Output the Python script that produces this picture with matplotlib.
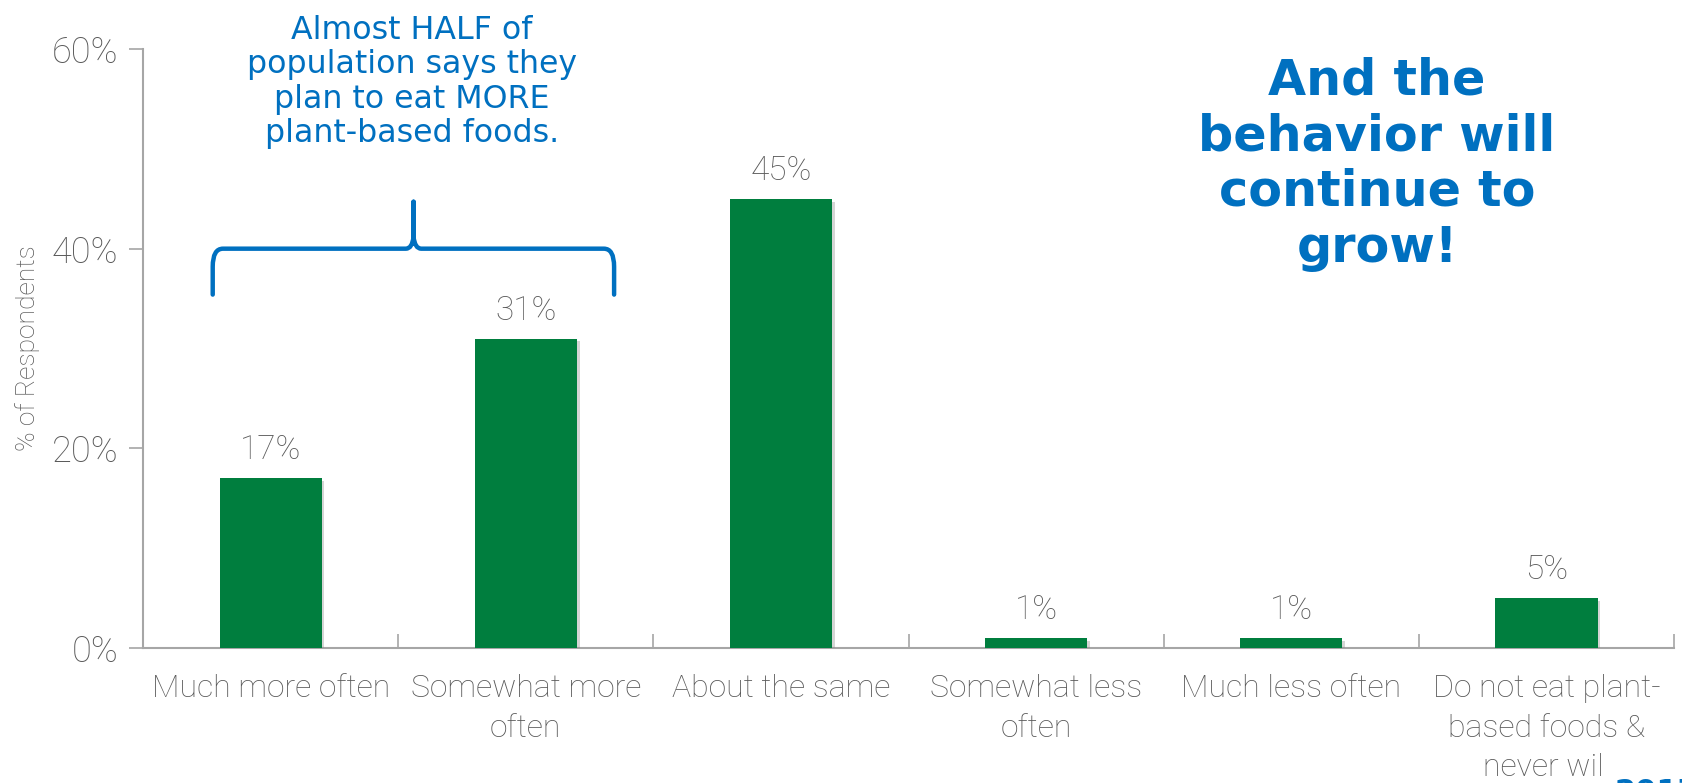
import matplotlib.pyplot as plt
from matplotlib.path import Path
from matplotlib.patches import PathPatch, Rectangle
from matplotlib import patheffects as pe
import numpy as np

# Survey data: how often respondents plan to eat plant-based foods
categories = ['Much more often', 'Somewhat more\noften', 'About the same',
              'Somewhat less\noften', 'Much less often',
              'Do not eat plant-\nbased foods &\nnever will']
percents = [17, 31, 45, 1, 1, 5]
y_ticks = [0, 20, 40, 60]
y_tick_labels = ['0%', '20%', '40%', '60%']

GREEN = '#007E3E'
BLUE = '#0070C0'
GRAY = '#595959'
AXIS = '#A6A6A6'
LIGHT = dict(family='Roboto', weight='light')

fig = plt.figure(figsize=(16.83, 7.83), dpi=100)
ax = fig.add_axes([0.085, 0.1724, 0.9097, 0.765])

x = np.arange(len(categories))
bars = ax.bar(x, percents, width=0.40, color=GREEN, zorder=3)
for b in bars:
    b.set_path_effects([pe.SimplePatchShadow(offset=(2, -2), shadow_rgbFace='#888888', alpha=0.35),
                        pe.Normal()])

# value labels above each bar
for xi, v in zip(x, percents):
    ax.annotate(f'{v}%', (xi, v), xytext=(0, 12), textcoords='offset pixels',
                ha='center', va='bottom', fontsize=24, color=GRAY, **LIGHT)

ax.set_xlim(-0.5, len(categories) - 0.5)
ax.set_ylim(0, 60)

# y axis
ax.set_yticks(y_ticks)
ax.set_yticklabels(y_tick_labels, fontsize=26, color=GRAY, **LIGHT)
ax.tick_params(axis='y', length=10, width=1.2, color=AXIS, pad=8)
ax.set_ylabel('% of Respondents', fontsize=19, color=GRAY, labelpad=8, **LIGHT)

# x axis: tick marks between categories, labels under the bars
ax.set_xticks(np.arange(-0.5, len(categories), 1.0))
ax.set_xticklabels([])
ax.tick_params(axis='x', which='major', length=10, width=1.2, color=AXIS, direction='in')
ax.set_xticks(x, minor=True)
ax.set_xticklabels(categories, minor=True, fontsize=23, color=GRAY,
                   linespacing=1.45, **LIGHT)
ax.tick_params(axis='x', which='minor', length=0, pad=19)
for lbl in ax.get_xticklabels(minor=True):
    lbl.set_verticalalignment('top')
    lbl.set_horizontalalignment('center')

for s in ['top', 'right']:
    ax.spines[s].set_visible(False)
for s in ['left', 'bottom']:
    ax.spines[s].set_color(AXIS)
    ax.spines[s].set_linewidth(1.5)

# curly brace over the first two bars
xl, xr, xm = -0.227, 1.346, 0.56
yb, yh, yp = 35.4, 40.0, 44.7
verts = [
    (xl, yb), (xl, yh - 1.8), (xl, yh), (xl + 0.04, yh),
    (xm - 0.03, yh), (xm - 0.005, yh), (xm, yh + 1.2), (xm, yp),
    (xm, yh + 1.2), (xm + 0.005, yh), (xm + 0.03, yh),
    (xr - 0.04, yh), (xr, yh), (xr, yh - 1.8), (xr, yb),
]
codes = [Path.MOVETO, Path.LINETO, Path.CURVE3, Path.CURVE3,
         Path.LINETO, Path.CURVE3, Path.CURVE3, Path.LINETO,
         Path.LINETO, Path.CURVE3, Path.CURVE3,
         Path.LINETO, Path.CURVE3, Path.CURVE3, Path.LINETO]
ax.add_patch(PathPatch(Path(verts, codes), fill=False, edgecolor=BLUE,
                       lw=3.2, capstyle='round', joinstyle='round', clip_on=False))

fig.text(412 / 1683, 1 - 82 / 783,
         'Almost HALF of\npopulation says they\nplan to eat MORE\nplant-based foods.',
         ha='center', va='center', fontsize=22.8, color=BLUE,
         family='DejaVu Sans', linespacing=1.13)

fig.text(1377 / 1683, 1 - 164 / 783,
         'And the\nbehavior will\ncontinue to\ngrow!',
         ha='center', va='center', fontsize=35.5, color=BLUE,
         family='DejaVu Sans', weight='bold', linespacing=1.21)

# white cover at the lower right corner, with the year peeking in
fig.add_artist(Rectangle((1605 / 1683, 0), 78 / 1683, 36 / 783,
                         transform=fig.transFigure, facecolor='white',
                         edgecolor='none', zorder=5))
fig.text(1615 / 1683, 1 - 778 / 783, '2017', ha='left', va='top',
         fontsize=22, color=BLUE, family='DejaVu Sans', weight='bold', zorder=6)

fig.savefig('out.png', dpi=100)
